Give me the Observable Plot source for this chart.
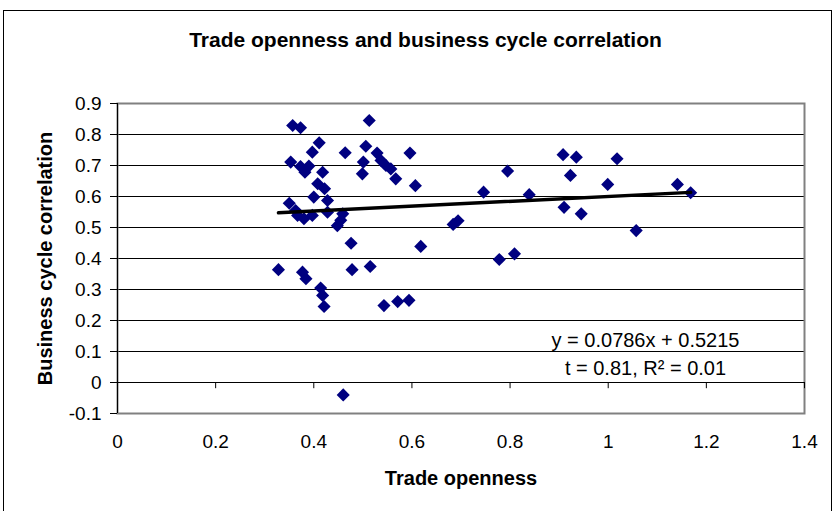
<!DOCTYPE html>
<html>
<head>
<meta charset="utf-8">
<script src="https://cdn.jsdelivr.net/npm/d3@7"></script>
<script src="https://cdn.jsdelivr.net/npm/@observablehq/plot@0.6"></script>
<style>
  html, body { margin: 0; padding: 0; background: #fff; }
  #wrap { position: relative; width: 834px; height: 511px; overflow: hidden; }
  #border { position: absolute; left: 3px; top: 10px; width: 829px; height: 520px; border: 1.5px solid #000; box-sizing: border-box; pointer-events: none; }
</style>
</head>
<body>
<div id="wrap"><div id="border"></div></div>
<script>
const title = "Trade openness and business cycle correlation";
const xTitle = "Trade openness";
const yTitle = "Business cycle correlation";
const eqLine1 = "y = 0.0786x + 0.5215";
const eqLine2 = "t = 0.81, R² = 0.01";
const slope = 0.0786;
const intercept = 0.5215;

const tradeOpenness = [
  0.357, 0.373, 0.513, 0.411, 0.397, 0.464, 0.506, 0.529, 0.596, 0.353,
  0.373, 0.390, 0.382, 0.418, 0.501, 0.537, 0.547, 0.557, 0.499, 0.567,
  0.607, 0.408, 0.422, 0.400, 0.428, 0.350, 0.363, 0.367, 0.380, 0.397,
  0.428, 0.459, 0.455, 0.448, 0.476, 0.618, 0.684, 0.694, 0.328, 0.377,
  0.384, 0.478, 0.515, 0.414, 0.418, 0.421, 0.543, 0.571, 0.594, 0.460,
  0.908, 0.935, 1.018, 0.795, 0.923, 0.746, 0.999, 0.839, 0.910, 0.945,
  1.057, 0.778, 0.809, 1.141, 1.168
];
const bcCorrelation = [
  0.829, 0.822, 0.845, 0.773, 0.743, 0.741, 0.762, 0.740, 0.740, 0.711,
  0.697, 0.698, 0.678, 0.678, 0.711, 0.716, 0.700, 0.689, 0.673, 0.657,
  0.635, 0.641, 0.625, 0.598, 0.587, 0.578, 0.555, 0.539, 0.528, 0.539,
  0.549, 0.544, 0.523, 0.506, 0.449, 0.439, 0.510, 0.522, 0.364, 0.356,
  0.335, 0.364, 0.374, 0.305, 0.281, 0.245, 0.248, 0.261, 0.265, -0.040,
  0.735, 0.727, 0.722, 0.682, 0.668, 0.614, 0.639, 0.606, 0.565, 0.544,
  0.490, 0.397, 0.415, 0.639, 0.612
];
const xTicks = [0, 0.2, 0.4, 0.6, 0.8, 1, 1.2, 1.4];
const yTicks = [-0.1, 0, 0.1, 0.2, 0.3, 0.4, 0.5, 0.6, 0.7, 0.8, 0.9];
const gridValues = [0.1, 0.2, 0.3, 0.4, 0.5, 0.6, 0.7, 0.8];

const points = tradeOpenness.map((x, i) => ({x, y: bcCorrelation[i]}));
const xMin = d3.min(tradeOpenness), xMax = d3.max(tradeOpenness);
const trend = [xMin, xMax].map(x => ({x, y: slope * x + intercept}));

const font = "'Liberation Sans', Arial, sans-serif";

const chart = Plot.plot({
  width: 834,
  height: 511,
  marginLeft: 117,
  marginRight: 30,
  marginTop: 103,
  marginBottom: 98,
  style: {fontFamily: font, fontSize: "20px", background: "transparent", color: "#000"},
  x: {domain: [0, 1.4]},
  y: {domain: [-0.1, 0.9]},
  marks: [
    Plot.ruleY(gridValues, {stroke: "#000", strokeWidth: 1}),
    Plot.frame({stroke: "#808080", strokeWidth: 2}),
    Plot.ruleX([0], {stroke: "#000", strokeWidth: 1}),
    Plot.ruleY([0], {stroke: "#000", strokeWidth: 1}),
    Plot.ruleX(xTicks, {x: d => d, y1: 0, y2: -0.02, stroke: "#000", strokeWidth: 1}),
    Plot.axisX({ticks: xTicks, tickSize: 0, tickPadding: 21, tickFormat: d => String(d), label: null, fontSize: 19}),
    Plot.axisY({ticks: yTicks, tickSize: 7, tickPadding: 9, tickFormat: d => String(Math.round(d * 10) / 10), label: null, fontSize: 19}),
    Plot.dot(points, {x: "x", y: "y", symbol: "diamond2", r: 5.9, fill: "#000080", stroke: "none"}),
    Plot.line(trend, {x: "x", y: "y", stroke: "#000", strokeWidth: 3.5}),
    Plot.text([eqLine1], {frameAnchor: "bottom-right", dx: -159, dy: -73, textAnchor: "middle", lineAnchor: "middle", text: d => d, fontSize: 20}),
    Plot.text([eqLine2], {frameAnchor: "bottom-right", dx: -159, dy: -45, textAnchor: "middle", lineAnchor: "middle", text: d => d, fontSize: 20}),
    Plot.text([title], {frameAnchor: "top", dx: -35.5, dy: -63, lineAnchor: "middle", text: d => d, fontSize: 21, fontWeight: "bold"}),
    Plot.text([xTitle], {frameAnchor: "bottom", dy: 65, lineAnchor: "middle", text: d => d, fontSize: 20, fontWeight: "bold"}),
    Plot.text([yTitle], {frameAnchor: "left", dx: -72, textAnchor: "middle", lineAnchor: "middle", text: d => d, rotate: -90, fontSize: 20, fontWeight: "bold"})
  ]
});
document.getElementById("wrap").prepend(chart);
</script>
</body>
</html>
